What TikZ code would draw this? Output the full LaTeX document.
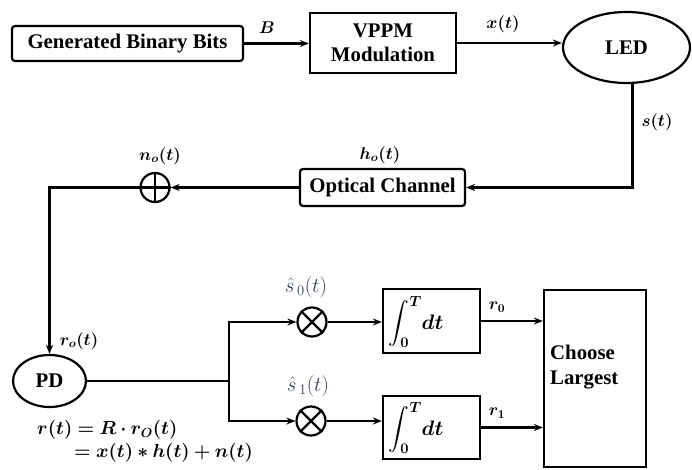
\RequirePackage{fix-cm}
\documentclass[tikz,border=0pt]{standalone}
\usepackage{exscale}
\usepackage{fontspec}
\setmainfont{Liberation Serif}[BoldFont={Liberation Serif Bold}]
\newfontfamily\boxfont{Liberation Serif}[BoldFont={Liberation Serif Bold}]
\usepackage{bm}
\usetikzlibrary{arrows.meta,shapes.geometric,calc}
\definecolor{hatcol}{RGB}{55,65,90}
\tikzset{
  blk/.style={draw, line width=2.2pt, font=\boxfont\fontsize{20.8}{24}\selectfont\bfseries, inner sep=2pt, align=center},
  rblk/.style={blk, rounded corners=3pt},
  oval/.style={blk, ellipse},
  opnode/.style={draw, circle, line width=2.2pt, minimum size=29pt, inner sep=0pt},
  lbl/.style={font=\fontsize{17}{20}\selectfont, inner sep=0pt},
  conn/.style={line width=2.2pt},
  arr/.style={conn, -{Stealth[length=9pt,width=7pt]}}
}
\begin{document}
\begin{tikzpicture}[x=1pt,y=-1pt]
\useasboundingbox (0,0) rectangle (692,470);
% nodes
\node[rblk, minimum width=231pt, minimum height=35pt] (gen) at (127.5,43.5) {Generated Binary Bits};
\node[blk, minimum width=146pt, minimum height=60pt] (vppm) at (383,43) {VPPM\\Modulation};
\node[oval, minimum width=127pt, minimum height=71pt] (led) at (626.5,47.5) {LED};
\node[rblk, minimum width=165pt, minimum height=37pt] (chan) at (382.5,187.5) {Optical Channel};
\node[opnode] (add) at (155,187.5) {};
\draw[conn] (add.north) -- (add.south) (add.west) -- (add.east);
\node[oval, minimum width=73pt, minimum height=52pt] (pd) at (49.5,381) {PD};
\node[opnode] (m0) at (312,322) {};
\draw[conn] (m0.north west) -- (m0.south east) (m0.north east) -- (m0.south west);
\node[opnode] (m1) at (311,421) {};
\draw[conn] (m1.north west) -- (m1.south east) (m1.north east) -- (m1.south west);
\node[blk, minimum width=97pt, minimum height=64pt] (int0) at (431.5,321) {};
\node[blk, minimum width=97pt, minimum height=63pt] (int1) at (431.5,427.5) {};
\node[inner sep=0pt, font=\fontsize{21}{24}\selectfont] (i0) at (416,322) {$\displaystyle\int_{\bm 0}^{\bm T}\!\bm{dt}$};
\node[inner sep=0pt, font=\fontsize{21}{24}\selectfont] (i1) at (416,428) {$\displaystyle\int_{\bm 0}^{\bm T}\!\bm{dt}$};
\node[blk, minimum width=102pt, minimum height=177pt] (choose) at (595,378.5) {};
\node[inner sep=0pt, anchor=west, align=left, font=\boxfont\fontsize{20.8}{25}\selectfont\bfseries] (chtxt) at (550,367) {Choose\\Largest};
% labels
\node[lbl] (lB) at (267,28) {$\bm{B}$};
\node[lbl] (lx) at (503,24) {$\bm{x(t)}$};
\node[lbl] (ls) at (657,122) {$\bm{s(t)}$};
\node[lbl] (lh) at (380,155) {$\bm{h_o(t)}$};
\node[lbl] (ln) at (160,156) {$\bm{n_o(t)}$};
\node[lbl] (lr) at (79,341) {$\bm{r_o(t)}$};
\node[lbl, text=hatcol, font=\fontsize{21}{24}\selectfont] (ls0) at (306,287) {$\hat{s}_{\,0}(t)$};
\node[lbl, text=hatcol, font=\fontsize{21}{24}\selectfont] (ls1) at (308,386) {$\hat{s}_{\,1}(t)$};
\node[lbl] (lr0) at (497,307) {$\bm{r_0}$};
\node[lbl] (lr1) at (497,413) {$\bm{r_1}$};
\node[lbl, anchor=west, font=\fontsize{19}{22}\selectfont] (f1) at (37,430) {$\bm{r(t) = R\cdot r_O(t)}$};
\node[lbl, anchor=west, font=\fontsize{19}{22}\selectfont] (f2) at (74,453) {$\bm{= x(t) \ast h(t) + n(t)}$};
% connectors
\draw[arr] (gen.east) -- (gen.east -| vppm.west);
\draw[arr] (vppm.east) -- (vppm.east -| led.west);
\draw[arr] ($(led.south)+(6,0)$) coordinate (ledout) |- (chan.east);
\draw[arr] (chan.west) -- (chan.west -| add.east);
\draw[arr] (add.west) -| (pd.north);
\coordinate (split) at (229,381);
\draw[conn] (pd.east) -- (split);
\draw[arr] (split) |- (m0.west);
\draw[arr] (split) |- (m1.west);
\draw[arr] (m0.east) -- (m0.east -| int0.west);
\draw[arr] (m1.east) -- (m1.east -| int1.west);
\draw[arr] (int0.east) -- (int0.east -| choose.west);
\draw[arr] (int1.east) -- (int1.east -| choose.west);
\end{tikzpicture}
\end{document}
